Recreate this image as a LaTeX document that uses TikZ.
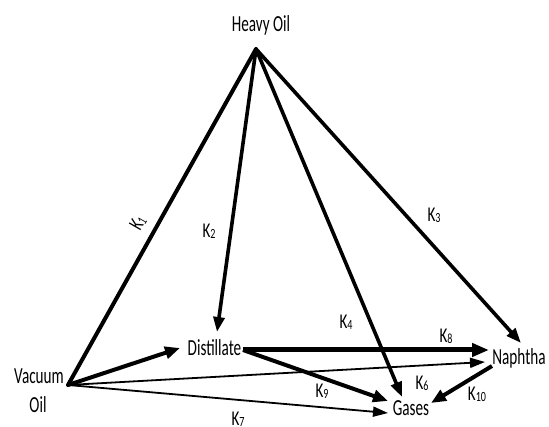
\documentclass[tikz,border=0pt]{standalone}
\usepackage{fontspec}
\usepackage{graphicx}
\setmainfont{Carlito}
\usetikzlibrary{arrows.meta}
\newcommand{\sq}[1]{\scalebox{0.66}[1]{#1}}
\newcommand{\kk}[1]{\scalebox{0.72}[1]{K\raisebox{-1pt}{\fontsize{14}{14}\selectfont #1}}}
\begin{document}
\begin{tikzpicture}[x=1pt,y=-1pt,
  lbl/.style={font=\fontsize{23}{25}\selectfont, inner sep=0pt},
  kl/.style={font=\fontsize{21}{23}\selectfont, inner sep=0pt},
  thickarr/.style={line width=4pt, -{Triangle[length=15pt,width=12pt]}},
  medarr/.style={line width=3.6pt, -{Triangle[length=15pt,width=11pt]}},
  thinarr/.style={line width=1.8pt, -{Triangle[length=15pt,width=10pt]}},
  plain/.style={line width=4pt, line cap=round}]
\useasboundingbox (0,0) rectangle (549,427);
% texts
\node[lbl] (heavy) at (261,25) {\sq{Heavy Oil}};
\node[lbl] (vac) at (39,376) {\sq{Vacuum}};
\node[lbl] (vac2) at (38,405) {\sq{Oil}};
\node[lbl] (dist) at (214.5,348) {\sq{Distillate}};
\node[lbl] (naph) at (519,358) {\sq{Naphtha}};
\node[lbl] (gas) at (411,408) {\sq{Gases}};
% anchor points
\coordinate (A) at (256,49);
\coordinate (V) at (68,385);
\coordinate (Dend) at (243,350);
\coordinate (Dtip2) at (217,332);
\coordinate (Vtip1) at (180,348);
\coordinate (Ntip3) at (521,343);
\coordinate (Ntip8) at (489,350);
\coordinate (Ntip5) at (485,362);
\coordinate (Gtip4) at (402,397);
\coordinate (Gtip9) at (388,401);
\coordinate (Gtip7) at (388,413);
\coordinate (Nstart) at (492,366);
\coordinate (Gtip10) at (431,403);
% connectors
\draw[plain] (V) -- (A);
\draw[medarr] (A) -- (Dtip2);
\draw[medarr] (A) -- (Ntip3);
\draw[medarr] (A) -- (Gtip4);
\draw[thickarr] (V) -- (Vtip1);
\draw[thinarr] (V) -- (Ntip5);
\draw[thinarr] (V) -- (Gtip7);
\draw[line width=5pt, -{Triangle[length=17pt,width=13pt]}] (Dend) -- (Ntip8);
\draw[thickarr] (Dend) -- (Gtip9);
\draw[thickarr] (Nstart) -- (Gtip10);
% rate labels
\node[kl,rotate=60] (k1) at (138,223) {\kk{1}};
\node[kl] (k2) at (209,231) {\kk{2}};
\node[kl] (k3) at (434,215) {\kk{3}};
\node[kl] (k4) at (346,322) {\kk{4}};
\node[kl] (k8) at (446,336) {\kk{8}};
\node[kl] (k6) at (422,383) {\kk{6}};
\node[kl] (k10) at (477,394) {\kk{10}};
\node[kl] (k9) at (322,391) {\kk{9}};
\node[kl] (k7) at (238,419) {\kk{7}};
\end{tikzpicture}
\end{document}
